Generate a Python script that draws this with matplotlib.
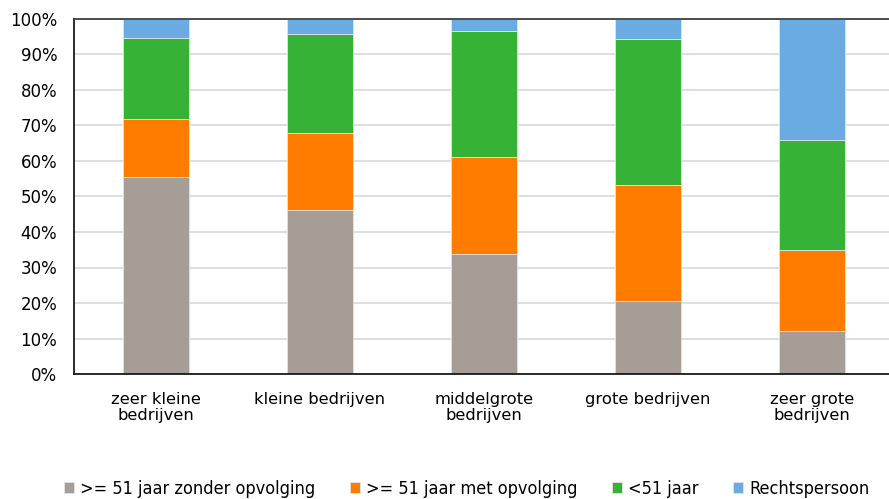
import matplotlib
matplotlib.use("Agg")
import matplotlib.pyplot as plt
import numpy as np

categories = ["zeer kleine\nbedrijven", "kleine bedrijven", "middelgrote\nbedrijven",
              "grote bedrijven", "zeer grote\nbedrijven"]
series_names = [">= 51 jaar zonder opvolging", ">= 51 jaar met opvolging", "<51 jaar", "Rechtspersoon"]
grey_vals = [55.5, 46.3, 33.9, 20.6, 12.1]
orange_vals = [16.2, 21.6, 27.2, 32.6, 22.8]
green_vals = [22.9, 27.9, 35.5, 41.2, 31.0]
blue_vals = [5.4, 4.2, 3.4, 5.6, 34.1]
colors = ["#A59D96", "#FF7C00", "#36B236", "#6AACE2"]

plt.rcParams['font.family'] = ['DejaVu Sans']
fig = plt.figure(figsize=(8.89, 4.99), dpi=100)
ax = fig.add_axes([74/889, 1-374/499, 820/889, 355/499])
x = np.arange(len(categories))
bottom = np.zeros(len(categories))
for vals, c, name in zip([grey_vals, orange_vals, green_vals, blue_vals], colors, series_names):
    ax.bar(x, vals, 0.4, bottom=bottom, color=c, label=name, zorder=3,
           edgecolor='#E3E3E3', linewidth=0.6)
    bottom += np.array(vals)

ax.set_xlim(-0.5, 4.5)
ax.set_ylim(0, 100)
ax.set_yticks(np.arange(0, 101, 10))
ax.set_yticklabels([f"{v}%" for v in range(0, 101, 10)], fontsize=12)
ax.set_xticks(x)
ax.set_xticklabels(categories, fontsize=11.8, linespacing=1.05)
ax.tick_params(axis='y', length=0, pad=12)
ax.tick_params(axis='x', length=0, pad=13)
ax.grid(axis='y', color='#D9D9D9', linewidth=1.2, zorder=0)
ax.spines['right'].set_visible(False)
for s in ['left', 'bottom', 'top']:
    ax.spines[s].set_color('#1a1a1a')
    ax.spines[s].set_linewidth(1.3)
    ax.spines[s].set_zorder(4)
ax.spines['top'].set_color('#404040')

fig.legend(loc='center', bbox_to_anchor=(0.525, 1 - 489/499), ncol=4, frameon=False,
           handlelength=0.55, handleheight=0.55, handletextpad=0.35, columnspacing=1.9,
           prop={'stretch': 'condensed', 'size': 13})
fig.savefig("out.png", dpi=100)
